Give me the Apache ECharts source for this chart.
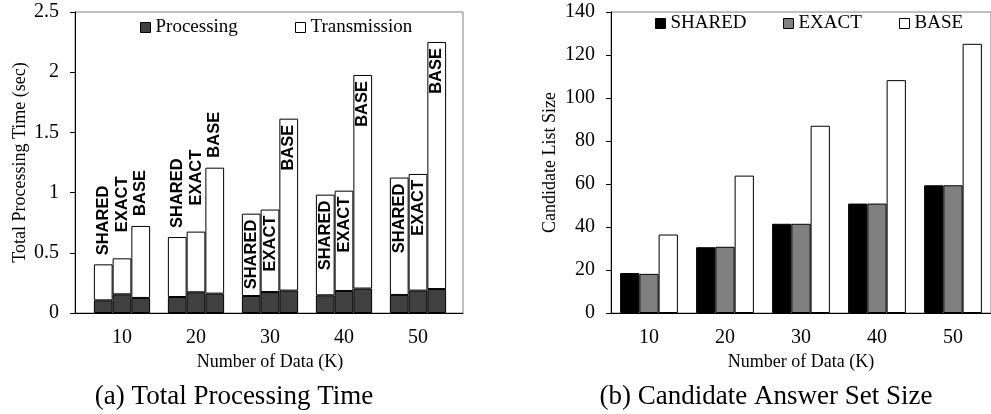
<!DOCTYPE html>
<html>
<head>
<meta charset="utf-8">
<script src="https://cdn.jsdelivr.net/npm/echarts@6/dist/echarts.min.js"></script>
<style>
  html, body { margin: 0; padding: 0; background: #fff; }
  #chart { width: 991px; height: 414px; }
</style>
</head>
<body>
<div id="chart"></div>
<script>
// x categories, shared by both panels
var categories = ['10', '20', '30', '40', '50'];
var methods = ['SHARED', 'EXACT', 'BASE'];

// (a) total processing time, seconds, split in two parts
var procShared = [0.105, 0.133, 0.141, 0.147, 0.150];
var procExact = [0.155, 0.172, 0.174, 0.183, 0.186];
var procBase = [0.125, 0.161, 0.186, 0.203, 0.199];
var transShared = [0.299, 0.498, 0.684, 0.836, 0.975];
var transExact = [0.299, 0.504, 0.685, 0.833, 0.969];
var transBase = [0.598, 1.046, 1.428, 1.774, 2.052];

// (b) candidate list size
var candShared = [18.6, 30.6, 41.5, 50.9, 59.4];
var candExact = [18.2, 30.8, 41.5, 50.9, 59.4];
var candBase = [36.5, 63.9, 87.1, 108.3, 125.2];

// axis ranges
var timeMax = 2.5, timeStep = 0.5;
var sizeMax = 140, sizeStep = 20;

var serif = 'Liberation Serif';
var procColor = '#404040';
var frameColor = '#808080';

var chart = echarts.init(document.getElementById('chart'), null, { renderer: 'canvas' });

var tickText = { fontFamily: serif, fontSize: 20, color: '#000' };
var nameText = { fontFamily: serif, fontSize: 18, color: '#000' };
var blackLine = { lineStyle: { color: '#000', width: 1 } };

// gap between bar top and rotated name, [above, inside]
var labelGap = { SHARED: [9, 6], EXACT: [26, 6], BASE: [10, 6] };

var procData = [procShared, procExact, procBase];
var transData = [transShared, transExact, transBase];

var series = [];
methods.forEach(function (m, k) {
  series.push({
    name: 'Processing',
    type: 'bar',
    xAxisIndex: 1, yAxisIndex: 1,
    stack: m,
    barGap: '0%', barCategoryGap: '24%',
    itemStyle: { color: procColor, borderColor: '#000', borderWidth: 1 },
    data: procData[k]
  });
  series.push({
    name: 'Transmission',
    type: 'bar',
    xAxisIndex: 1, yAxisIndex: 1,
    stack: m,
    barGap: '0%', barCategoryGap: '24%',
    itemStyle: { color: '#fff', borderColor: '#000', borderWidth: 1 },
    data: transData[k].map(function (v, i) {
      var above = i < 2;
      return {
        value: v,
        label: {
          show: true,
          formatter: m,
          rotate: 90,
          position: above ? 'top' : 'insideTop',
          align: above ? 'left' : 'right',
          verticalAlign: 'middle',
          distance: above ? labelGap[m][0] : labelGap[m][1],
          fontFamily: 'Liberation Sans',
          fontWeight: 'bold',
          fontSize: 16.5,
          color: '#000'
        }
      };
    })
  });
});

var candData = [candShared, candExact, candBase];
var candColors = ['#000', '#808080', '#fff'];
methods.forEach(function (m, k) {
  series.push({
    name: m,
    type: 'bar',
    xAxisIndex: 2, yAxisIndex: 2,
    barGap: '0%', barCategoryGap: '24%',
    itemStyle: { color: candColors[k], borderColor: '#000', borderWidth: 1 },
    data: candData[k]
  });
});

function legendItem(name, left, top) {
  return {
    data: [name],
    left: left, top: top,
    padding: 0,
    icon: 'rect',
    itemWidth: 10, itemHeight: 10,
    itemStyle: { borderColor: '#000', borderWidth: 1 },
    textStyle: { fontFamily: serif, fontSize: 19, color: '#000' },
    selectedMode: false
  };
}

var option = {
  animation: false,
  backgroundColor: '#fff',
  grid: [
    { left: 75, right: 528, top: 12, bottom: 101, show: true, borderColor: frameColor, borderWidth: 1 },
    { left: 85, width: 370, top: 12, bottom: 101 },
    { left: 611, width: 384, top: 12, bottom: 101, show: true, borderColor: frameColor, borderWidth: 1 }
  ],
  legend: [
    legendItem('Processing', 140, 18),
    legendItem('Transmission', 295, 18),
    legendItem('SHARED', 655, 14),
    legendItem('EXACT', 783, 14),
    legendItem('BASE', 899, 14)
  ],
  xAxis: [
    {
      gridIndex: 0, type: 'value', min: 0, max: 1,
      axisLine: blackLine, axisTick: { show: false },
      axisLabel: { show: false }, splitLine: { show: false }
    },
    {
      gridIndex: 1, type: 'category', data: categories,
      axisLine: { show: false }, axisTick: { show: false },
      axisLabel: Object.assign({ margin: 15 }, tickText),
      name: 'Number of Data (K)', nameLocation: 'middle', nameGap: 28,
      nameTextStyle: nameText
    },
    {
      gridIndex: 2, type: 'category', data: categories,
      axisLine: blackLine, axisTick: { show: false },
      axisLabel: Object.assign({ margin: 15 }, tickText),
      name: 'Number of Data (K)', nameLocation: 'middle', nameGap: 28,
      nameTextStyle: nameText
    }
  ],
  yAxis: [
    {
      gridIndex: 0, type: 'value', min: 0, max: timeMax, interval: timeStep,
      axisLine: Object.assign({ show: true }, blackLine),
      axisTick: { show: true, length: 5, lineStyle: { color: '#000' } },
      axisLabel: Object.assign({ margin: 16 }, tickText),
      splitLine: { show: false },
      name: 'Total Processing Time (sec)', nameLocation: 'middle', nameGap: 46,
      nameTextStyle: nameText
    },
    {
      gridIndex: 1, type: 'value', min: 0, max: timeMax, interval: timeStep,
      show: false, splitLine: { show: false }
    },
    {
      gridIndex: 2, type: 'value', min: 0, max: sizeMax, interval: sizeStep,
      axisLine: Object.assign({ show: true }, blackLine),
      axisTick: { show: true, length: 5, lineStyle: { color: '#000' } },
      axisLabel: Object.assign({ margin: 16 }, tickText),
      splitLine: { show: false },
      name: 'Candidate List Size', nameLocation: 'middle', nameGap: 52,
      nameTextStyle: nameText
    }
  ],
  series: series,
  graphic: [
    {
      type: 'text',
      style: { text: '(a) Total Processing Time', x: 234, y: 397, align: 'center', verticalAlign: 'middle',
               font: '27px "Liberation Serif"', fill: '#000' }
    },
    {
      type: 'text',
      style: { text: '(b) Candidate Answer Set Size', x: 766, y: 397, align: 'center', verticalAlign: 'middle',
               font: '27px "Liberation Serif"', fill: '#000' }
    }
  ]
};

chart.setOption(option);
</script>
</body>
</html>
